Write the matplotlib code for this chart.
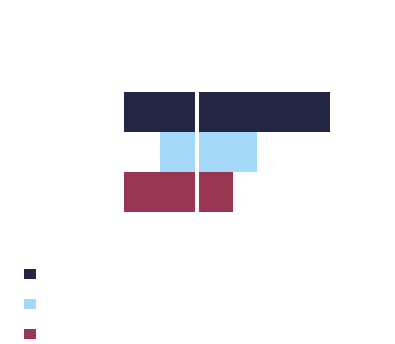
import matplotlib
matplotlib.use('Agg')
import matplotlib.pyplot as plt
from matplotlib.patches import Patch

# Diverging bars, one row per group: left part negative, right part positive
groups = ['A', 'B', 'C']
left_vals = [-36.5, -18.5, -36.5]
right_vals = [66.5, 30, 18]
colors = ['#222644', '#a4d9f9', '#9a3652']

fig = plt.figure(figsize=(3.95, 3.44), dpi=100)
ax = fig.add_axes([124 / 395, (344 - 212) / 344, 206 / 395, 120 / 344])

ypos = range(len(groups))
ax.barh(ypos, left_vals, height=1.0, color=colors)
ax.barh(ypos, right_vals, height=1.0, color=colors)

# white divider at zero
ax.axvline(0, color='white', linewidth=2.9)

ax.set_xlim(min(left_vals), max(right_vals))
ax.set_ylim(len(groups) - 0.5, -0.5)
ax.axis('off')

# Legend swatches with no text
handles = [Patch(facecolor=c) for c in colors]
fig.legend(handles, ['', '', ''], loc='upper left',
           bbox_to_anchor=(24 / 395, 1 - 268 / 344),
           frameon=False, fontsize=8.64, handlelength=1, handleheight=1,
           borderpad=0, borderaxespad=0, labelspacing=1.42, handletextpad=0)

fig.savefig('out.png', dpi=100)
